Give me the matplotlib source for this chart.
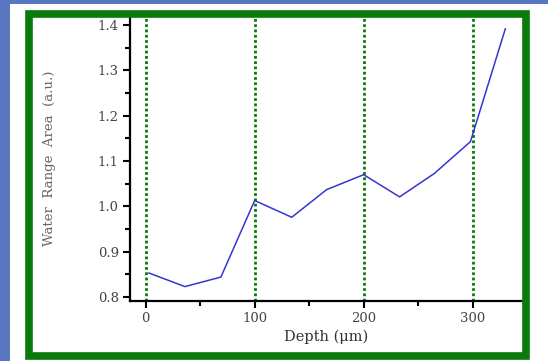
import matplotlib
matplotlib.use("Agg")
import matplotlib.pyplot as plt
from matplotlib.patches import Rectangle
from matplotlib.ticker import MultipleLocator

# data
depth = [3, 36, 69, 100, 134, 166, 200, 233, 265, 298, 330]
area = [0.853, 0.823, 0.844, 1.013, 0.976, 1.037, 1.070, 1.021, 1.073, 1.143, 1.392]
guide_x = [0, 100, 200, 300]
xticks = [0, 100, 200, 300]
yticks = [0.8, 0.9, 1.0, 1.1, 1.2, 1.3, 1.4]

W, H = 548, 361
fig = plt.figure(figsize=(W / 100, H / 100), dpi=100)
fig.patch.set_facecolor("white")

blue = "#5877c0"
green = "#0a7a0a"

# slide background bits
fig.patches.append(Rectangle((0, (H - 4) / H), 1, 4 / H, transform=fig.transFigure,
                             facecolor=blue, edgecolor="none", zorder=0))
fig.patches.append(Rectangle((0, 0), 10 / W, 1, transform=fig.transFigure,
                             facecolor=blue, edgecolor="none", zorder=0))

ax = fig.add_axes([130 / W, 60 / H, (522 - 130) / W, (301 - 15) / H])
ax.set_facecolor("none")

for gx in guide_x:
    ax.axvline(gx, color=green, lw=2.0, ls=(0, (1, 0.9)), zorder=1)
ax.plot(depth, area, color="#3535d0", lw=1.1, zorder=2)

ax.set_xlim(-14.4, 345.3)
ax.set_ylim(0.7912, 1.4225)
ax.set_xticks(xticks)
ax.set_yticks(yticks)
ax.set_yticklabels(["%.1f" % v for v in yticks])
ax.xaxis.set_minor_locator(MultipleLocator(50))
ax.yaxis.set_minor_locator(MultipleLocator(0.05))

for s in ["top", "right"]:
    ax.spines[s].set_visible(False)
for s in ["left", "bottom"]:
    ax.spines[s].set_linewidth(1.6)
    ax.spines[s].set_color("black")

ax.tick_params(which="major", direction="out", length=5, width=1.5, colors="black",
               labelcolor="#444444", labelsize=9.5, pad=3)
ax.tick_params(which="minor", direction="out", length=3.5, width=1.5, colors="black")
for lab in ax.get_xticklabels() + ax.get_yticklabels():
    lab.set_family("DejaVu Serif")

ax.set_xlabel("Depth (μm)", family="DejaVu Serif", fontsize=10.5, color="#333333", labelpad=3)
ax.set_ylabel("Water  Range  Area  (a.u.)", family="DejaVu Serif", fontsize=9.5,
              color="#666666", labelpad=30)

# green frame on top of everything
fig.patches.append(Rectangle((29.5 / W, (H - 356) / H), (526 - 29.5) / W, (356 - 13.5) / H,
                             transform=fig.transFigure, facecolor="none",
                             edgecolor=green, lw=5.5, zorder=10))

fig.savefig("out.png", dpi=100)
